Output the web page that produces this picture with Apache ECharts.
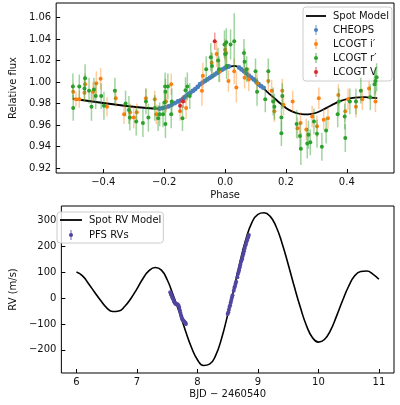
<!DOCTYPE html>
<html><head><meta charset="utf-8">
<script src="https://cdn.jsdelivr.net/npm/echarts@6/dist/echarts.min.js"></script>
<style>html,body{margin:0;padding:0;background:#fff}#c{width:400px;height:405px}</style>
</head><body><div id="c"></div>
<script>
// ---------- Top panel data: [phase, relative flux, error] ----------
const modelPhase = [[-0.5,0.9845],[-0.22,0.9753],[-0.2,0.9762],[-0.18,0.978],[-0.16,0.9805],[-0.14,0.9835],[-0.12,0.9885],[-0.10,0.993],[-0.08,0.998],[-0.06,1.0022],[-0.04,1.006],[-0.02,1.0095],[0.0,1.0125],[0.02,1.0145],[0.03,1.015],[0.04,1.0145],[0.06,1.0105],[0.08,1.0055],[0.10,1.001],[0.12,0.996],[0.14,0.9905],[0.16,0.9855],[0.18,0.9805],[0.20,0.976],[0.22,0.9728],[0.24,0.9708],[0.26,0.970],[0.28,0.9702],[0.30,0.9715],[0.32,0.974],[0.34,0.977],[0.36,0.980],[0.38,0.9825],[0.40,0.9842],[0.42,0.9853],[0.44,0.9858],[0.46,0.986],[0.48,0.9855],[0.50,0.985]];
const cheops = [[-0.215,0.9753,0.002],[-0.205,0.9758,0.002],[-0.195,0.9765,0.002],[-0.185,0.9775,0.002],[-0.175,0.979,0.002],[-0.165,0.9805,0.002],[-0.155,0.982,0.002],[-0.146,0.983,0.002],[-0.138,0.9845,0.002],[-0.130,0.9865,0.002],[-0.122,0.9885,0.002],[-0.114,0.990,0.002],[-0.106,0.9918,0.002],[-0.098,0.9935,0.002],[-0.090,0.9955,0.002],[-0.082,0.998,0.002],[-0.074,0.9995,0.002],[-0.066,1.001,0.002],[-0.058,1.0025,0.002],[-0.050,1.004,0.002],[-0.042,1.0055,0.002],[-0.034,1.007,0.002],[-0.026,1.0085,0.002],[-0.018,1.010,0.002],[-0.010,1.0115,0.002],[-0.002,1.0128,0.002],[0.006,1.014,0.002],[0.012,1.0145,0.002],[0.046,1.0135,0.002],[0.054,1.0118,0.002],[0.062,1.010,0.002],[0.070,1.008,0.002],[0.078,1.006,0.002],[0.086,1.0042,0.002],[0.094,1.0025,0.002],[0.102,1.0005,0.002],[0.110,0.998,0.002],[0.118,0.9962,0.002],[0.126,0.9947,0.002]];
const lcoI = [[-0.499,0.991,0.008],[-0.490,0.984,0.007],[-0.479,0.984,0.008],[-0.460,0.998,0.010],[-0.462,0.990,0.008],[-0.434,0.991,0.009],[-0.423,0.999,0.011],[-0.409,1.003,0.010],[-0.388,0.977,0.009],[-0.359,0.985,0.008],[-0.332,0.970,0.009],[-0.312,0.972,0.008],[-0.300,0.967,0.010],[-0.290,0.972,0.008],[-0.260,0.985,0.009],[-0.231,0.984,0.008],[-0.226,0.970,0.009],[-0.194,0.982,0.010],[-0.177,0.998,0.010],[-0.148,0.973,0.009],[-0.128,0.976,0.010],[-0.076,0.992,0.014],[-0.073,1.006,0.012],[-0.044,1.018,0.010],[-0.028,1.026,0.012],[-0.018,1.010,0.010],[0.000,1.030,0.010],[0.004,1.027,0.010],[0.011,1.001,0.010],[0.030,1.010,0.012],[0.037,0.995,0.014],[0.064,1.004,0.010],[0.078,1.0025,0.011],[0.105,0.999,0.010],[0.142,1.001,0.010],[0.153,0.992,0.010],[0.162,0.973,0.010],[0.188,0.992,0.011],[0.192,0.979,0.010],[0.222,0.982,0.010],[0.238,0.957,0.010],[0.248,0.962,0.010],[0.267,0.956,0.010],[0.286,0.968,0.010],[0.302,0.959,0.010],[0.308,0.985,0.010],[0.324,0.965,0.010],[0.338,0.9665,0.010],[0.372,0.988,0.010],[0.395,0.973,0.010],[0.404,0.984,0.010],[0.430,0.977,0.010],[0.451,0.984,0.010],[0.473,0.994,0.010],[0.494,0.982,0.010]];
const lcoR = [[-0.500,0.996,0.012],[-0.499,0.976,0.012],[-0.479,0.996,0.011],[-0.460,1.0035,0.013],[-0.462,0.994,0.012],[-0.447,0.992,0.012],[-0.439,0.977,0.013],[-0.431,0.993,0.011],[-0.425,0.987,0.012],[-0.407,0.987,0.012],[-0.398,0.978,0.013],[-0.362,0.992,0.012],[-0.327,0.980,0.012],[-0.316,0.974,0.013],[-0.313,0.967,0.012],[-0.292,0.9634,0.013],[-0.270,0.962,0.013],[-0.260,0.982,0.012],[-0.252,0.967,0.013],[-0.231,0.976,0.012],[-0.220,0.9665,0.012],[-0.215,0.970,0.011],[-0.204,0.970,0.012],[-0.199,0.981,0.012],[-0.197,0.996,0.013],[-0.196,0.991,0.012],[-0.196,0.961,0.013],[-0.188,0.996,0.012],[-0.177,0.970,0.013],[-0.175,0.982,0.012],[-0.140,0.9665,0.012],[-0.130,0.9925,0.012],[-0.124,0.996,0.013],[-0.116,0.987,0.012],[-0.062,1.012,0.012],[-0.047,1.023,0.013],[-0.043,1.015,0.012],[-0.023,1.020,0.012],[-0.020,1.012,0.012],[-0.002,1.035,0.013],[0.000,1.026,0.012],[0.005,1.015,0.012],[0.004,1.037,0.013],[0.018,1.035,0.014],[0.030,1.038,0.026],[0.062,1.027,0.013],[0.064,1.019,0.012],[0.071,1.012,0.012],[0.100,1.010,0.012],[0.105,0.991,0.013],[0.132,0.984,0.012],[0.142,1.010,0.012],[0.158,0.982,0.013],[0.162,0.977,0.012],[0.185,0.967,0.013],[0.185,0.9525,0.012],[0.188,0.987,0.012],[0.235,0.961,0.013],[0.246,0.950,0.013],[0.249,0.938,0.015],[0.274,0.951,0.013],[0.270,0.943,0.014],[0.280,0.944,0.012],[0.292,0.9634,0.012],[0.302,0.952,0.013],[0.318,0.940,0.013],[0.332,0.955,0.012],[0.370,0.970,0.012],[0.374,0.982,0.012],[0.393,0.968,0.012],[0.395,0.948,0.013],[0.410,0.982,0.012],[0.430,0.982,0.012],[0.446,0.992,0.012],[0.477,0.986,0.012],[0.491,0.998,0.013],[0.494,1.001,0.012],[0.498,1.0045,0.013]];
const lcoV = [[-0.148,0.978,0.006],[-0.034,1.038,0.008],[-0.138,0.982,0.006]];
const phaseTicks = [-0.4,-0.2,0.0,0.2,0.4];
const fluxTicks = [0.92,0.94,0.96,0.98,1.00,1.02,1.04,1.06];

// ---------- Bottom panel data ----------
const rvModel = [[6.0,100],[6.1,85],[6.2,55],[6.3,22],[6.4,-10],[6.5,-38],[6.6,-52],[6.7,-50],[6.8,-32],[6.9,-2],[7.0,35],[7.1,75],[7.2,105],[7.3,117],[7.4,108],[7.5,70],[7.6,10],[7.7,-55],[7.8,-125],[7.9,-190],[8.0,-238],[8.1,-260],[8.2,-255],[8.3,-222],[8.4,-155],[8.5,-65],[8.6,32],[8.7,135],[8.8,225],[8.9,290],[9.0,322],[9.1,328],[9.2,315],[9.3,275],[9.4,210],[9.5,130],[9.6,45],[9.7,-35],[9.8,-105],[9.9,-152],[10.0,-170],[10.1,-160],[10.2,-125],[10.3,-70],[10.4,-10],[10.5,45],[10.6,85],[10.7,102],[10.8,104],[10.9,92],[11.0,72]];
const pfs = [[7.55,22,6],[7.56,15,6],[7.57,10,6],[7.58,4,6],[7.59,0,6],[7.60,-5,6],[7.61,-12,6],[7.62,-17,6],[7.63,-20,6],[7.64,-22,6],[7.65,-24,6],[7.66,-25,6],[7.67,-24,6],[7.68,-27,6],[7.69,-30,6],[7.70,-38,6],[7.71,-48,6],[7.72,-58,6],[7.73,-68,6],[7.74,-75,6],[7.75,-82,6],[7.76,-86,6],[7.77,-88,6],[7.78,-92,6],[7.79,-94,6],[7.80,-96,6],[7.81,-100,6],
[8.50,-62,6],[8.51,-55,6],[8.52,-45,6],[8.53,-35,6],[8.54,-28,6],[8.55,-18,6],[8.56,-8,6],[8.57,2,6],[8.58,10,6],[8.60,28,6],[8.61,38,6],[8.62,45,6],[8.63,55,6],[8.64,62,6],[8.66,80,6],[8.67,92,6],[8.68,100,6],[8.69,108,6],[8.70,118,6],[8.71,128,6],[8.72,138,6],[8.73,145,6],[8.74,152,6],[8.75,162,6],[8.76,170,6],[8.77,180,6],[8.78,190,6],[8.79,200,6],[8.80,206,6],[8.81,215,6],[8.82,222,6],[8.83,230,6],[8.84,236,6],[8.85,242,6]];
const timeTicks = [6,7,8,9,10,11];
const rvTicks = [-200,-100,0,100,200,300];

const FONT = 'DejaVu Sans';
const minus = s => s.replace('-', '\u2212');
function errRender(dot, bar, r, lw) {
  return function (params, api) {
    const x = api.value(0), y = api.value(1), e = api.value(2);
    const c = api.coord([x, y]), t = api.coord([x, y + e]), b = api.coord([x, y - e]);
    return {type: 'group', children: [
      {type: 'line', shape: {x1: t[0], y1: t[1], x2: b[0], y2: b[1]}, style: {stroke: bar, lineWidth: lw}},
      {type: 'circle', shape: {cx: c[0], cy: c[1], r: r}, style: {fill: dot}}
    ]};
  };
}
const errIcon = 'path://M9.6,0L10.4,0L10.4,10L9.6,10Z M10,3A2,2 0 1 1 10,7A2,2 0 1 1 10,3Z';
const lineIcon = 'path://M0,4.1L20,4.1L20,5.9L0,5.9Z';
const axisText = {color: '#111', fontFamily: FONT, fontSize: 10};
function xAx(gi, min, max, ticks, fmt, name, gap) {
  return {type: 'value', gridIndex: gi, min, max, name, nameLocation: 'middle', nameGap: gap,
    nameTextStyle: axisText, splitLine: {show: false}, axisLine: {show: false, onZero: false},
    axisTick: {show: true, inside: true, length: 4, lineStyle: {color: '#000'}, customValues: ticks},
    axisLabel: Object.assign({margin: 4, formatter: fmt, customValues: ticks}, axisText)};
}
function yAx(gi, min, max, ticks, fmt, name, gap) {
  return {type: 'value', gridIndex: gi, min, max, name, nameLocation: 'middle', nameGap: gap,
    nameTextStyle: axisText, splitLine: {show: false}, axisLine: {show: false, onZero: false},
    axisTick: {show: true, inside: true, length: 4, lineStyle: {color: '#000'}, customValues: ticks},
    axisLabel: Object.assign({margin: 5, formatter: fmt, customValues: ticks}, axisText)};
}
const chart = echarts.init(document.getElementById('c'), null, {renderer: 'canvas'});
chart.setOption({
  animation: false,
  textStyle: {fontFamily: FONT},
  grid: [
    {left: 47, top: 3, right: 6, height: 170, show: true, borderColor: '#000', borderWidth: 1},
    {left: 52, top: 206, right: 6, height: 167, show: true, borderColor: '#000', borderWidth: 1}
  ],
  xAxis: [
    xAx(0, -0.555, 0.555, phaseTicks, v => minus(v.toFixed(1)), 'Phase', 17),
    xAx(1, 5.75, 11.25, timeTicks, v => String(v), 'BJD \u2212 2460540', 16)
  ],
  yAxis: [
    yAx(0, 0.9155, 1.0735, fluxTicks, v => v.toFixed(2), 'Relative flux', 30),
    yAx(1, -289, 354, rvTicks, v => minus(String(v)), 'RV (m/s)', 35)
  ],
  legend: [
    {left: 303, top: 7, orient: 'vertical', itemWidth: 20, itemHeight: 10, itemGap: 4,
     padding: [4, 3, 4, 3], borderColor: '#ccc', borderWidth: 1, borderRadius: 3,
     backgroundColor: 'rgba(255,255,255,0.8)', textStyle: {fontFamily: FONT, fontSize: 10, color: '#111', padding: [0,0,0,2]},
     data: [{name: 'Spot Model', icon: lineIcon}, {name: 'CHEOPS', icon: errIcon}, {name: 'LCOGT i\u2032', icon: errIcon},
            {name: 'LCOGT r\u2032', icon: errIcon}, {name: 'LCOGT V', icon: errIcon}]},
    {left: 57, top: 212, orient: 'vertical', itemWidth: 22, itemHeight: 10, itemGap: 5,
     padding: [3, 2, 3, 3], borderColor: '#ccc', borderWidth: 1, borderRadius: 3,
     backgroundColor: 'rgba(255,255,255,0.8)', textStyle: {fontFamily: FONT, fontSize: 10, color: '#111', padding: [0,0,0,2]},
     data: [{name: 'Spot RV Model', icon: 'path://M0,4.1L22,4.1L22,5.9L0,5.9Z'}, {name: 'PFS RVs', icon: errIcon}]}
  ],
  series: [
    {name: 'Spot Model', type: 'line', xAxisIndex: 0, yAxisIndex: 0, data: modelPhase, symbol: 'none',
     smooth: 0.2, lineStyle: {color: '#000', width: 1.8}, itemStyle: {color: '#000'}, z: 1},
    {name: 'CHEOPS', type: 'custom', xAxisIndex: 0, yAxisIndex: 0, data: cheops, encode: {x: 0, y: 1},
     itemStyle: {color: '#4a7ebf'}, renderItem: errRender('#4a7ebf', 'rgba(74,126,191,0.6)', 2.4, 1), z: 2},
    {name: 'LCOGT i\u2032', type: 'custom', xAxisIndex: 0, yAxisIndex: 0, data: lcoI, encode: {x: 0, y: 1},
     itemStyle: {color: '#ff7f0e'}, renderItem: errRender('#ff7f0e', 'rgba(255,127,14,0.4)', 2, 1.5), z: 3},
    {name: 'LCOGT r\u2032', type: 'custom', xAxisIndex: 0, yAxisIndex: 0, data: lcoR, encode: {x: 0, y: 1},
     itemStyle: {color: '#2ca02c'}, renderItem: errRender('#2ca02c', 'rgba(44,160,44,0.45)', 2, 1.5), z: 4},
    {name: 'LCOGT V', type: 'custom', xAxisIndex: 0, yAxisIndex: 0, data: lcoV, encode: {x: 0, y: 1},
     itemStyle: {color: '#d62728'}, renderItem: errRender('#d62728', 'rgba(214,39,40,0.45)', 2, 1.5), z: 5},
    {name: 'Spot RV Model', type: 'line', xAxisIndex: 1, yAxisIndex: 1, data: rvModel, symbol: 'none',
     smooth: true, lineStyle: {color: '#000', width: 1.6}, itemStyle: {color: '#000'}, z: 1},
    {name: 'PFS RVs', type: 'custom', xAxisIndex: 1, yAxisIndex: 1, data: pfs, encode: {x: 0, y: 1},
     itemStyle: {color: '#4b3f98'}, renderItem: errRender('#5046a0', 'rgba(72,61,139,0.7)', 2, 1), z: 2}
  ]
});
</script></body></html>
